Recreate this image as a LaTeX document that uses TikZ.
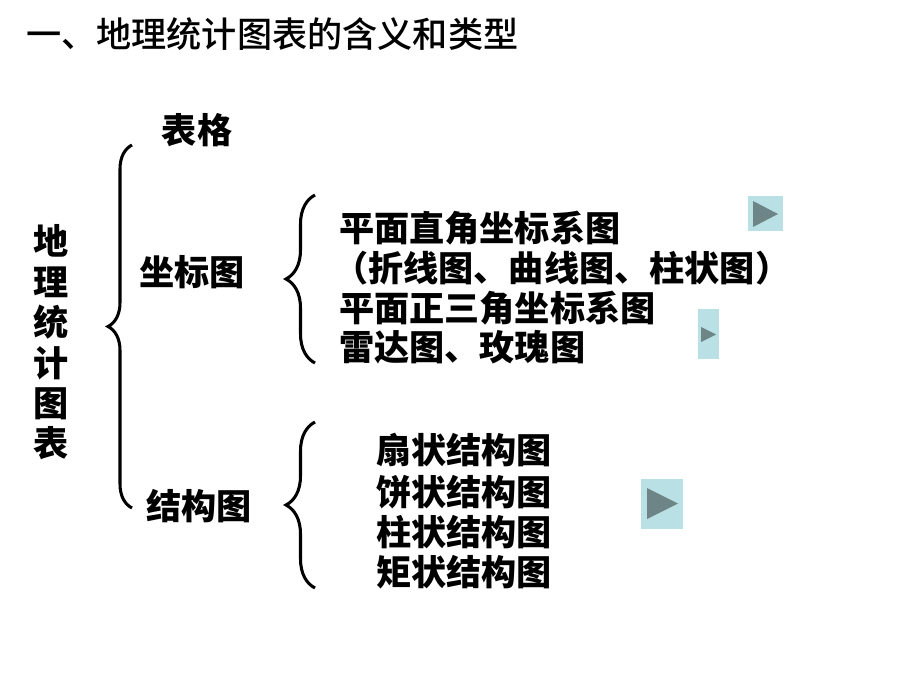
\documentclass[tikz,border=0pt]{standalone}
\usepackage{fontspec}
\newfontfamily\cjk{Noto Sans CJK SC}
\newfontfamily\cjkmed{Noto Sans CJK SC}[UprightFont=* Medium]
\usetikzlibrary{decorations.pathreplacing}
\definecolor{btnbg}{HTML}{B9E0E4}
\definecolor{btnfg}{HTML}{6E8587}
\tikzset{
  lbl/.style={font=\cjk\bfseries\fontsize{30pt}{34.5pt}\selectfont, inner sep=0pt},
  item/.style={lbl, anchor=west},
  bigbrace/.style={decorate, decoration={brace, amplitude=#1}, line width=2.6pt},
}

\begin{document}
\begin{tikzpicture}[x=0.03cm,y=-0.03cm]
        \useasboundingbox (0,0) rectangle (900,675);
        % title
        \node[font=\cjkmed\fontsize{30pt}{34pt}\selectfont, inner sep=0pt, anchor=west] (title) at (26,34) {一、地理统计图表的含义和类型};
        \node[lbl, align=center] (root) at (51.5,342.5) {地\\理\\统\\计\\图\\表};
        \node[lbl] (tab) at (197,130) {表格};
        \node[lbl] (coord) at (192,272) {坐标图};
        \node[lbl] (struct) at (199,506) {结构图};
        % coordinate charts
        \node[item] (c1) at (339,228) {平面直角坐标系图};
        \node[item] (c2) at (333,268) {（折线图、曲线图、柱状图）};
        \node[item] (c3) at (339,308) {平面正三角坐标系图};
        \node[item] (c4) at (339,347) {雷达图、玫瑰图};
        % structure charts
        \foreach \k/\y in {扇/450, 饼/492, 柱/532, 矩/572}
            \node[item] (s\y) at (376,\y) {\k 状结构图};
        % braces
        \coordinate (rb) at (132,508); \coordinate (rt) at (132,145);
        \coordinate (cb) at (315,363); \coordinate (ct) at (315,195);
        \coordinate (sb) at (315,588); \coordinate (st) at (315,422);
        \draw[bigbrace=0.72cm] (rb) -- (rt);
        \draw[bigbrace=0.87cm] (cb) -- (ct);
        \draw[bigbrace=0.87cm] (sb) -- (st);
        % play buttons
        \foreach \xa/\ya/\xb/\yb/\ta/\tb/\tc/\td in {748/196/783/231/753/201/778/227,
                698/309/719/359/701/327/716/342, 641/479/683/529/647/488/678/519}{
            \fill[btnbg] (\xa,\ya) rectangle (\xb,\yb);
            \fill[btnfg] (\ta,\tb) -- (\tc,{(\tb+\td)/2}) -- (\ta,\td) -- cycle;
        }
    \end{tikzpicture}
\end{document}
